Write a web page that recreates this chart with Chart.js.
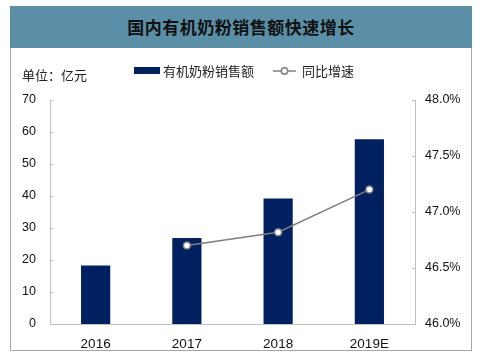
<!DOCTYPE html>
<html><head><meta charset="utf-8">
<script src="https://cdn.jsdelivr.net/npm/chart.js@4.4.1/dist/chart.umd.min.js"></script>
<style>
html,body{margin:0;padding:0;background:#fff;}
#wrap{position:relative;width:486px;height:356px;overflow:hidden;}
#head{position:absolute;left:10px;top:6px;width:462px;height:42px;background:#5B8FA8;
 font-family:"Noto Sans CJK SC",sans-serif;font-weight:bold;font-size:17px;color:#111;
 text-align:center;line-height:42px;letter-spacing:0.5px;}
#frame{position:absolute;left:10px;top:48px;width:460px;height:302px;border:1.5px solid #a6a6a6;border-top:none;}
canvas{position:absolute;left:0;top:0;}
</style></head>
<body><div id="wrap">
<div id="head">国内有机奶粉销售额快速增长</div>
<div id="frame"></div>
<canvas id="c" width="486" height="356"></canvas>
</div>
<script>
const categories = ['2016','2017','2018','2019E'];
const salesValues = [18.3, 26.9, 39.2, 57.7];
const growthValues = [null, 46.7, 46.82, 47.2];
const leftTicks = [0,10,20,30,40,50,60,70];
const rightTicks = [46.0,46.5,47.0,47.5,48.0];
const unitLabel = '单位：亿元';
const barLabel = '有机奶粉销售额';
const lineLabel = '同比增速';

const AXIS = '#bfbfbf';
const BAR = '#002060';
const LINE = '#7f7f7f';

const innerTicks = {
  id:'innerTicks',
  afterDatasetsDraw(chart){
    const ctx = chart.ctx, y = chart.scales.y, y1 = chart.scales.y1;
    ctx.save(); ctx.strokeStyle = AXIS; ctx.lineWidth = 1;
    leftTicks.forEach(v=>{const p=Math.round(y.getPixelForValue(v))+0.5;
      ctx.beginPath();ctx.moveTo(y.right,p);ctx.lineTo(y.right+3,p);ctx.stroke();});
    rightTicks.forEach(v=>{const p=Math.round(y1.getPixelForValue(v))+0.5;
      ctx.beginPath();ctx.moveTo(y1.left,p);ctx.lineTo(y1.left-3,p);ctx.stroke();});
    ctx.restore();
  }
};
const legendPlugin = {
  id:'myLegend',
  afterDraw(chart){
    const ctx = chart.ctx;
    ctx.save();
    ctx.font = '13px "Noto Sans CJK SC", sans-serif';
    ctx.fillStyle = '#222'; ctx.textBaseline = 'middle';
    ctx.fillText(unitLabel, 22, 75);
    ctx.fillStyle = BAR; ctx.fillRect(134, 67, 26, 7);
    ctx.fillStyle = '#222'; ctx.fillText(barLabel, 163, 71);
    ctx.strokeStyle = LINE; ctx.lineWidth = 1.5;
    ctx.beginPath(); ctx.moveTo(273,71); ctx.lineTo(296,71); ctx.stroke();
    ctx.fillStyle = '#fff'; ctx.beginPath(); ctx.arc(284.5,71,3.2,0,Math.PI*2); ctx.fill(); ctx.stroke();
    ctx.fillStyle = '#222'; ctx.fillText(lineLabel, 302, 71);
    ctx.restore();
  }
};

new Chart(document.getElementById('c'), {
  data:{
    labels: categories,
    datasets:[
      {type:'line', label:lineLabel, data:growthValues, yAxisID:'y1', borderColor:LINE, borderWidth:1.5,
       pointRadius:3.5, pointBackgroundColor:'#fff', pointBorderColor:LINE, pointBorderWidth:1.5, order:0, spanGaps:false},
      {type:'bar', label:barLabel, data:salesValues, yAxisID:'y', backgroundColor:BAR,
       barPercentage:0.32, categoryPercentage:1, order:1}
    ]
  },
  options:{
    responsive:false, animation:false, devicePixelRatio:1,
    layout:{padding:{left:0,right:0,top:100,bottom:0}},
    plugins:{legend:{display:false}, tooltip:{enabled:false}},
    scales:{
      x:{grid:{display:false, drawTicks:false}, border:{color:AXIS, width:1},
         ticks:{color:'#111', font:{family:'"Liberation Sans", Arial', size:13.5}, padding:12},
         afterFit(s){s.height=32;}},
      y:{position:'left', min:0, max:70, afterBuildTicks(s){s.ticks=leftTicks.map(v=>({value:v}));},
         grid:{display:false, drawTicks:false}, border:{color:AXIS, width:1},
         ticks:{color:'#111', font:{family:'"Liberation Sans", Arial', size:12.5}, padding:14},
         afterFit(s){s.width=50;}},
      y1:{position:'right', min:46, max:48, afterBuildTicks(s){s.ticks=rightTicks.map(v=>({value:v}));},
         grid:{display:false, drawTicks:false}, border:{color:AXIS, width:1},
         ticks:{color:'#111', font:{family:'"Liberation Sans", Arial', size:12.5}, padding:10,
           callback:v=>v.toFixed(1)+'%'},
         afterFit(s){s.width=71;}}
    }
  },
  plugins:[innerTicks, legendPlugin]
});
</script>
</body></html>
